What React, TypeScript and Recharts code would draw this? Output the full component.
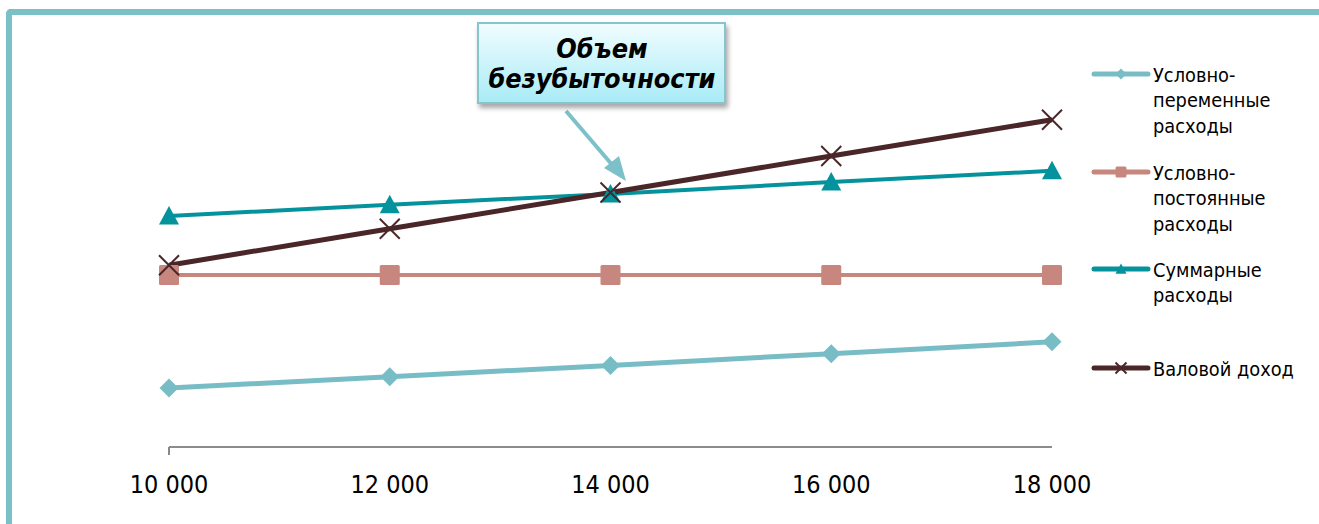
import React from "react";
import { LineChart, Line, XAxis, YAxis } from "recharts";

// Sales volume, units
const volumes = ["10 000", "12 000", "14 000", "16 000", "18 000"];
// Series values, rubles
const variableCosts = [120000, 143000, 166000, 190000, 214000];
const fixedCosts = [350000, 350000, 350000, 350000, 350000];
const totalCosts = [470000, 493000, 515000, 539000, 562000];
const grossIncome = [370000, 444000, 518000, 592000, 666000];

const seriesNames = [
  "Условно-\nпеременные\nрасходы",
  "Условно-\nпостоянные\nрасходы",
  "Суммарные\nрасходы",
  "Валовой доход",
];

const data = volumes.map((v, i) => ({
  volume: v,
  variable: variableCosts[i],
  fixed: fixedCosts[i],
  total: totalCosts[i],
  income: grossIncome[i],
}));

type Shape = "diamond" | "square" | "triangle" | "cross";

const series: { key: string; name: string; color: string; shape: Shape; width: number }[] = [
  { key: "variable", name: seriesNames[0], color: "#78bdc5", shape: "diamond", width: 5 },
  { key: "fixed", name: seriesNames[1], color: "#c7867e", shape: "square", width: 4 },
  { key: "total", name: seriesNames[2], color: "#04939c", shape: "triangle", width: 4 },
  { key: "income", name: seriesNames[3], color: "#4a2628", shape: "cross", width: 5 },
];

const FONT = "Tahoma, 'DejaVu Sans Condensed', 'DejaVu Sans', sans-serif";

function Marker({ cx, cy, shape, color, r }: { cx: number; cy: number; shape: Shape; color: string; r: number }) {
  if (cx == null || cy == null) return null;
  switch (shape) {
    case "diamond":
      return <polygon points={`${cx},${cy - r} ${cx + r},${cy} ${cx},${cy + r} ${cx - r},${cy}`} fill={color} />;
    case "square":
      return <rect x={cx - r} y={cy - r} width={2 * r} height={2 * r} rx={1.5} fill={color} />;
    case "triangle":
      return <polygon points={`${cx},${cy - r * 1.0} ${cx + r},${cy + r * 0.85} ${cx - r},${cy + r * 0.85}`} fill={color} />;
    case "cross":
      return (
        <g stroke={color} strokeWidth={2}>
          <line x1={cx - r} y1={cy - r} x2={cx + r} y2={cy + r} />
          <line x1={cx - r} y1={cy + r} x2={cx + r} y2={cy - r} />
        </g>
      );
  }
}

const markerSize: Record<Shape, number> = { diamond: 9.5, square: 10, triangle: 10, cross: 10 };

function VolumeTick(props: any) {
  const { x, y, payload, index } = props;
  return (
    <g>
      {index === 0 && <line x1={x} y1={y - 8} x2={x} y2={y} stroke="#888" strokeWidth={2} />}
      <text x={x} y={y + 29} textAnchor="middle" dominantBaseline="central" fontFamily={FONT} fontSize={25} fill="#000">
        {payload.value}
      </text>
    </g>
  );
}

function LegendBlock() {
  const rows = [74, 172, 269, 368];
  return (
    <svg width={240} height={420} style={{ position: "absolute", left: 1080, top: 40 }}>
      {series.map((s, i) => {
        const y = rows[i] - 40;
        const lines = s.name.split("\n");
        return (
          <g key={s.key}>
            <line x1={14} y1={y} x2={68} y2={y} stroke={s.color} strokeWidth={5} strokeLinecap="round" />
            <Marker cx={41} cy={y} shape={s.shape} color={s.color} r={5.5} />
            {lines.map((t, j) => (
              <text key={j} x={73} y={y + 1 + j * 25.5} dominantBaseline="central" fontFamily={FONT} fontSize={19.8} fill="#000">
                {t}
              </text>
            ))}
          </g>
        );
      })}
    </svg>
  );
}

function Callout() {
  return (
    <svg width={1319} height={524} style={{ position: "absolute", left: 0, top: 0, pointerEvents: "none" }}>
      <defs>
        <linearGradient id="calloutFill" x1="0" y1="0" x2="0" y2="1">
          <stop offset="0%" stopColor="#f1fdff" />
          <stop offset="100%" stopColor="#a8ebf6" />
        </linearGradient>
        <filter id="calloutShadow" x="-10%" y="-10%" width="130%" height="140%">
          <feGaussianBlur in="SourceAlpha" stdDeviation="2.5" />
          <feOffset dx="2" dy="4" />
          <feComponentTransfer>
            <feFuncA type="linear" slope="0.35" />
          </feComponentTransfer>
          <feMerge>
            <feMergeNode />
            <feMergeNode in="SourceGraphic" />
          </feMerge>
        </filter>
      </defs>
      <line x1={566} y1={111} x2={614} y2={167} stroke="#7cc1c9" strokeWidth={4} />
      <polygon points="626,181 604,168 619,156" fill="#7cc1c9" />
      <rect x={478} y={23} width={247} height={80} fill="url(#calloutFill)" stroke="#85c6ce" strokeWidth={2} filter="url(#calloutShadow)" />
      <text x={602} y={48} textAnchor="middle" dominantBaseline="central" fontFamily={FONT} fontSize={26.8} fontWeight="bold" fontStyle="italic" fill="#000">
        Объем
      </text>
      <text x={602} y={78} textAnchor="middle" dominantBaseline="central" fontFamily={FONT} fontSize={26.8} fontWeight="bold" fontStyle="italic" fill="#000">
        безубыточности
      </text>
    </svg>
  );
}

export default function App() {
  return (
    <div style={{ position: "fixed", left: 0, top: 0, width: 1319, height: 524, background: "#fff", overflow: "hidden" }}>
      <div
        style={{
          position: "absolute",
          left: 6,
          top: 9,
          width: 1400,
          height: 600,
          borderLeft: "6px solid #7bbfc7",
          borderTop: "6px solid #7bbfc7",
          borderTopLeftRadius: 5,
          boxSizing: "border-box",
        }}
      />
      <div style={{ position: "absolute", left: 0, top: 0 }}>
        <LineChart width={1319} height={524} data={data} margin={{ top: 103, right: 267, bottom: 0, left: 169 }}>
          <XAxis
            dataKey="volume"
            height={77}
            axisLine={{ stroke: "#8c8c8c", strokeWidth: 2 }}
            tickLine={false}
            tick={<VolumeTick />}
            interval={0}
          />
          <YAxis hide domain={[0, 700000]} />
          {series.map((s) => (
            <Line
              key={s.key}
              dataKey={s.key}
              name={s.name}
              stroke={s.color}
              strokeWidth={s.width}
              isAnimationActive={false}
              dot={(p: any) => (
                <Marker key={`${s.key}-${p.index}`} cx={p.cx} cy={p.cy} shape={s.shape} color={s.color} r={markerSize[s.shape]} />
              )}
              activeDot={false}
            />
          ))}
        </LineChart>
      </div>
      <LegendBlock />
      <Callout />
    </div>
  );
}
